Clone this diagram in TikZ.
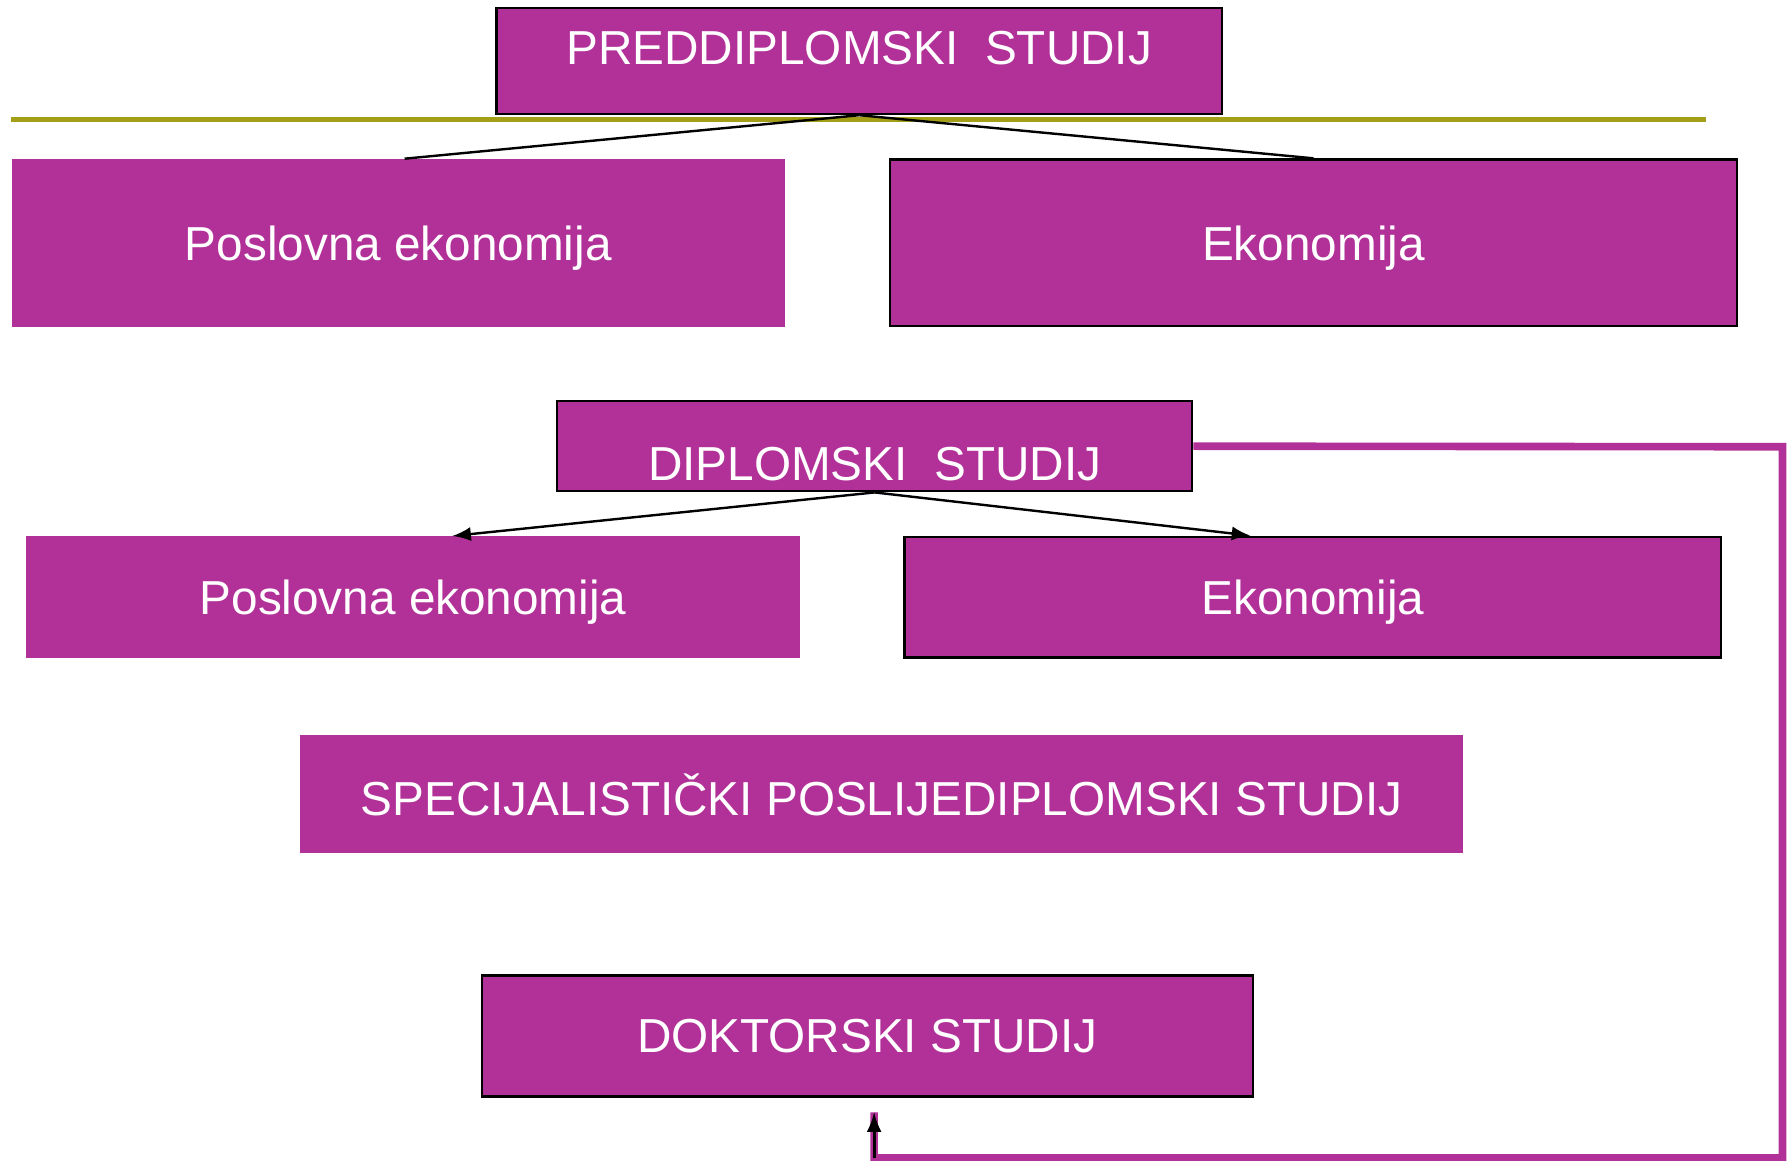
\documentclass[tikz,border=0pt]{standalone}
\usepackage{fontspec}
\setmainfont{Liberation Sans}
\usepackage{tikz}
\usetikzlibrary{positioning,calc}
\usetikzlibrary{arrows,shapes}
\definecolor{purp}{RGB}{178,49,152}
\definecolor{olivebar}{RGB}{163,160,24}
\pgfkeys{tikz/studbox/.style={fill=purp,draw=purp,text=white,inner sep=0pt,text depth=0pt,font=\fontsize{11.9}{14}\selectfont}}
\pgfkeys{tikz/studframe/.style={studbox,draw=black,line width=0.6pt}}

\begin{document}
\begin{tikzpicture}[x=0.01cm,y=-0.01cm]
  \useasboundingbox (0,0) rectangle (1568,1018.7);

  \node[studframe,minimum width=6.36cm,text height=0.5cm,text depth=0.43cm] (pred) at (754,53.5) {PREDDIPLOMSKI\ \ STUDIJ};
  \node[studbox,minimum width=6.77cm,minimum height=1.46cm] (pe1) at (349.5,213) {Poslovna ekonomija};
  \node[studframe,minimum width=7.43cm,minimum height=1.46cm] (ek1) at (1152.5,213) {Ekonomija};

  \node[studframe,minimum width=5.57cm,text height=0.70cm,text depth=0.09cm] (dip) at (767.5,391.5) {DIPLOMSKI\ \ STUDIJ};
  \node[studbox,minimum width=6.77cm,minimum height=1.06cm] (pe2) at (362.5,524) {Poslovna ekonomija};
  \node[studframe,minimum width=7.16cm,minimum height=1.06cm] (ek2) at (1152,524) {Ekonomija};

  \node[studbox,minimum width=10.19cm,minimum height=1.02cm] (spec) at (773.5,697) {SPECIJALISTIČKI POSLIJEDIPLOMSKI STUDIJ};
  \node[studframe,minimum width=6.76cm,minimum height=1.06cm] (dok) at (761,909) {DOKTORSKI STUDIJ};

  \coordinate (r0) at (10,105);
  \coordinate (r1) at (1497,105);
  \draw[olivebar,line width=1.4pt] (r0) -- (r1);

  \draw[line width=0.6pt] (pred.south) -- ([xshift=0.055cm]pe1.north);
  \draw[line width=0.6pt] (pred.south) -- (ek1.north);

  \draw[-latex,line width=0.6pt] (dip.south) -- ([xshift=0.345cm]pe2.north);
  \draw[-latex,line width=0.6pt] (dip.south) -- ([xshift=-0.55cm]ek2.north);

  \coordinate (c1) at (1564,392);
  \coordinate (c2) at (1564,1016);
  \coordinate (c3) at (767,1016);
  \coordinate (tip) at (767,976);
  \draw[purp,line width=1.9pt] (dip.east) -- (c1) -- (c2) -- (c3) -- (tip);
  \draw[-latex,line width=0.7pt] (c3) -- (tip);
\end{tikzpicture}
\end{document}
